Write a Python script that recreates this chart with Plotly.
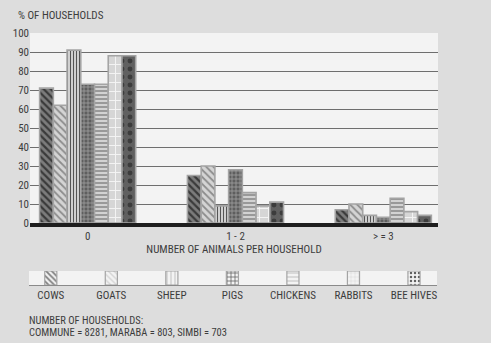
import plotly.graph_objects as go

# Share of households by number of animals owned
groups = ["0", "1 - 2", "> = 3"]
animals = ["COWS", "GOATS", "SHEEP", "PIGS", "CHICKENS", "RABBITS", "BEE HIVES"]
cows = [71, 25, 7]
goats = [62, 30, 10]
sheep = [91, 9, 4]
pigs = [73, 28, 3]
chickens = [73, 16, 13]
rabbits = [88, 9, 6]
bee_hives = [88, 11, 4]
series = [cows, goats, sheep, pigs, chickens, rabbits, bee_hives]

y_ticks = list(range(0, 101, 10))
footer_lines = ["NUMBER OF HOUSEHOLDS:", "COMMUNE = 8281, MARABA = 803, SIMBI = 703"]

# Fill style for each animal: pattern shape, background and stroke colours
shapes = ["\\", "\\", "|", "+", "-", "+", "."]
bgs = ["#7c7c7c", "#d4d4d4", "#d0d0d0", "#5e5e5e", "#d2d2d2", "#d6d6d6", "#606060"]
fgs = ["#3a3a3a", "#8c8c8c", "#555555", "#a0a0a0", "#8a8a8a", "#f4f4f4", "#3c3c3c"]
sizes = [5, 5, 3, 4, 4, 9, 8]
sols = [0.45, 0.35, 0.35, 0.35, 0.4, 0.2, 0.3]

FONT = "Liberation Sans Narrow, Arial Narrow, Roboto Condensed, Liberation Sans, sans-serif"
TXT = "#3c3c3c"
W, H = 491, 343

def px_x(p):
    return p / W

def px_y(p):
    return 1 - p / H

fig = go.Figure()

for i, name in enumerate(animals):
    fig.add_trace(go.Bar(
        x=groups, y=series[i], name=name, xaxis="x", yaxis="y",
        marker=dict(
            color=bgs[i],
            line=dict(color="#a4a4a4", width=1.6),
            pattern=dict(shape=shapes[i], bgcolor=bgs[i], fgcolor=fgs[i],
                         size=sizes[i], solidity=sols[i], fillmode="replace"),
        ),
        showlegend=False,
    ))

# Key drawn as a row of small bars sitting on a rule
fig.add_trace(go.Bar(
    x=animals, y=[1] * len(animals), xaxis="x2", yaxis="y2", width=0.2,
    marker=dict(
        color=bgs,
        line=dict(color="#a4a4a4", width=1.2),
        pattern=dict(shape=shapes, bgcolor=bgs, fgcolor=fgs, size=[4] * 7,
                     solidity=sols, fillmode="replace"),
    ),
    showlegend=False, hoverinfo="skip",
))

annotations = [
    dict(text="% OF HOUSEHOLDS", xref="paper", yref="paper",
         x=px_x(16), y=px_y(15), xanchor="left", yanchor="middle",
         showarrow=False, font=dict(family=FONT, size=11, color=TXT)),
]
for k, line in enumerate(footer_lines):
    annotations.append(dict(
        text=line, xref="paper", yref="paper",
        x=px_x(28), y=px_y(320 + 12 * k), xanchor="left", yanchor="middle",
        showarrow=False, borderpad=0,
        font=dict(family=FONT, size=10.5, color=TXT)))

fig.update_layout(
    template="none",
    width=W, height=H,
    margin=dict(l=0, r=0, t=0, b=0),
    paper_bgcolor="#dddddd",
    plot_bgcolor="#f3f3f3",
    barmode="group",
    bargap=0.35,
    bargroupgap=0,
    font=dict(family=FONT, size=11, color=TXT),
    xaxis=dict(
        domain=[px_x(30), px_x(438)],
        anchor="y",
        type="category",
        categoryorder="array", categoryarray=groups,
        range=[-0.39, 2.37],
        showgrid=False, zeroline=False,
        showline=True, linecolor="#1e1e1e", linewidth=4,
        ticks="", tickfont=dict(family=FONT, size=11, color=TXT),
        title=dict(text="NUMBER OF ANIMALS PER HOUSEHOLD",
                   font=dict(family=FONT, size=11, color=TXT), standoff=0),
        automargin=False, fixedrange=True,
    ),
    yaxis=dict(
        domain=[px_y(223), px_y(33)],
        anchor="x",
        range=[0, 100],
        tickvals=y_ticks,
        showgrid=True, gridcolor="#6e6e6e", gridwidth=1,
        zeroline=False, showline=False,
        ticks="", tickfont=dict(family=FONT, size=11, color=TXT),
        automargin=False, fixedrange=True,
    ),
    xaxis2=dict(
        domain=[px_x(29), px_x(437)],
        anchor="y2",
        type="category",
        categoryorder="array", categoryarray=animals,
        range=[-0.36, 6.38],
        showgrid=False, zeroline=False,
        showline=True, linecolor="#8a8a8a", linewidth=1,
        ticks="", tickfont=dict(family=FONT, size=11, color=TXT),
        automargin=False, fixedrange=True,
    ),
    yaxis2=dict(
        domain=[px_y(285), px_y(271)],
        anchor="x2",
        range=[0, 1],
        visible=False, fixedrange=True,
    ),
    annotations=annotations,
)

fig.write_html("out.html", config=dict(displayModeBar=False))
